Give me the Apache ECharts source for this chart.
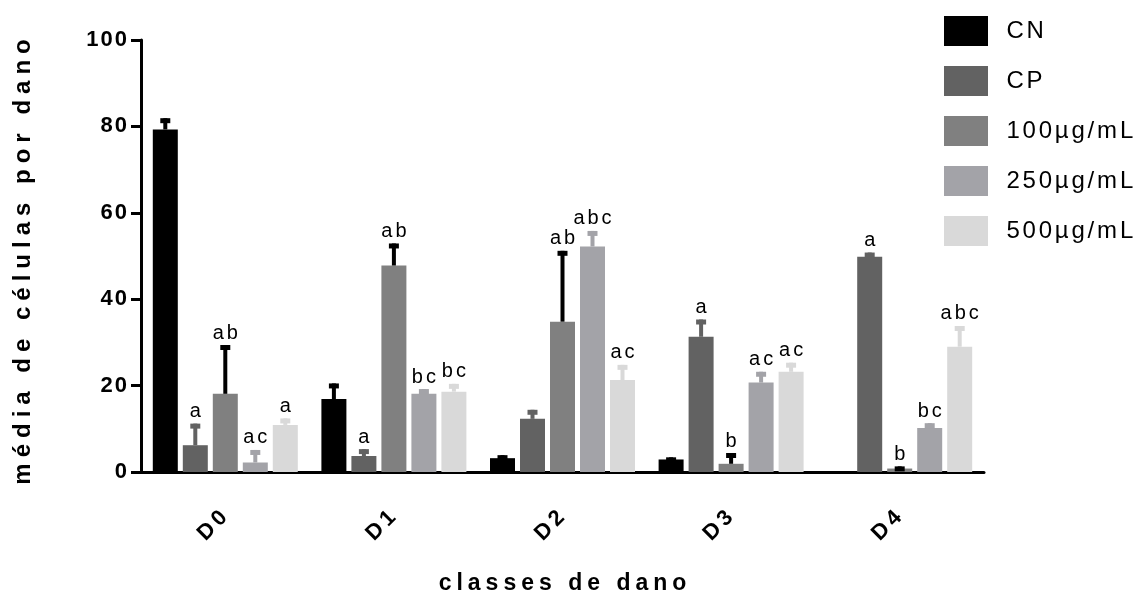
<!DOCTYPE html>
<html>
<head>
<meta charset="utf-8">
<script src="https://cdn.jsdelivr.net/npm/echarts@6/dist/echarts.min.js"></script>
<style>
  html, body { margin: 0; padding: 0; background: #ffffff; }
  #chart { width: 1137px; height: 594px; }
</style>
</head>
<body>
<div id="chart"></div>
<script>
// Damage classes and treatment groups
const categories = ['D0', 'D1', 'D2', 'D3', 'D4'];
const seriesNames = ['CN', 'CP', '100µg/mL', '250µg/mL', '500µg/mL'];

// Mean cells per damage class, with the upper SD of each bar
const meanCN  = [79.3, 16.9, 3.2, 2.9, 0];
const errCN   = [2.6, 3.6, 0.7, 0.5, 0];
const meanCP  = [6.2, 3.7, 12.3, 31.3, 49.8];
const errCP   = [5.0, 1.6, 2.1, 4.0, 1.0];
const mean100 = [18.1, 47.8, 34.8, 1.9, 0.8];
const err100  = [11.3, 5.1, 16.4, 2.5, 0.5];
const mean250 = [2.2, 18.1, 52.2, 20.7, 10.2];
const err250  = [2.9, 1.1, 3.6, 2.5, 1.1];
const mean500 = [10.9, 18.6, 21.3, 23.2, 29.0];
const err500  = [1.5, 1.8, 3.5, 2.1, 4.8];

// Significance letters above each bar
const lettersCN  = ['', '', '', '', ''];
const lettersCP  = ['a', 'a', '', 'a', 'a'];
const letters100 = ['ab', 'ab', 'ab', 'b', 'b'];
const letters250 = ['ac', 'bc', 'abc', 'ac', 'bc'];
const letters500 = ['a', 'bc', 'ac', 'ac', 'abc'];

// Y axis ticks
const yTicks = [0, 20, 40, 60, 80, 100];

const yTitle = 'média de células por dano';
const xTitle = 'classes de dano';

const means = [meanCN, meanCP, mean100, mean250, mean500];
const errs = [errCN, errCP, err100, err250, err500];
const letters = [lettersCN, lettersCP, letters100, letters250, letters500];

const barColors = ['#000000', '#626262', '#808080', '#a3a3a8', '#d9d9d9'];
const errColors = ['#000000', '#626262', '#000000', '#a3a3a8', '#d9d9d9'];

const FONT = "'Liberation Sans', Arial, Helvetica, sans-serif";
const BAR_W = 25;
const BAR_STEP = 30;

// Wrap each character in a rich token so letter spacing can be set via padding
function spaced(str, token) {
  return str.split('').map(function (ch) { return '{' + token + '|' + ch + '}'; }).join('');
}

const chart = echarts.init(document.getElementById('chart'));

const barSeries = seriesNames.map(function (name, i) {
  return {
    name: name,
    type: 'bar',
    data: means[i],
    barWidth: BAR_W,
    barGap: '20%',
    itemStyle: { color: barColors[i] },
    silent: true,
    z: 2
  };
});

// Error bar data: [category index, series index, mean, err]
const errData = [];
means.forEach(function (arr, s) {
  arr.forEach(function (m, c) {
    errData.push([c, s, m, errs[s][c]]);
  });
});

const labelRich = {
  l: { fontSize: 20, fontFamily: FONT, color: '#000', padding: [0, 1.5, 0, 1.5] }
};

const errorSeries = {
  type: 'custom',
  data: errData,
  z: 5,
  silent: true,
  renderItem: function (params, api) {
    const c = api.value(0);
    const s = api.value(1);
    const m = api.value(2);
    const e = api.value(3);
    const base = api.coord([c, m]);
    const x = base[0] + (s - 2) * BAR_STEP;
    const yBar = base[1];
    const yTop = api.coord([c, m + e])[1];
    const col = errColors[s];
    const children = [];
    if (m > 0 || e > 0) {
      children.push({
        type: 'rect',
        shape: { x: x - 2, y: yTop, width: 4, height: Math.max(0, yBar - yTop) },
        style: { fill: col }
      });
      children.push({
        type: 'rect',
        shape: { x: x - 5, y: yTop, width: 10, height: 5 },
        style: { fill: col }
      });
    }
    const txt = letters[s][c];
    if (txt) {
      children.push({
        type: 'text',
        style: {
          text: spaced(txt, 'l'),
          rich: labelRich,
          x: x,
          y: yTop - 2,
          align: 'center',
          verticalAlign: 'bottom'
        }
      });
    }
    return { type: 'group', children: children };
  }
};

chart.setOption({
  animation: false,
  backgroundColor: '#ffffff',
  grid: { left: 141, right: 153, top: 40, bottom: 122, containLabel: false, outerBoundsMode: 'none' },
  legend: {
    data: seriesNames,
    orient: 'vertical',
    left: 939,
    top: 11,
    itemWidth: 44,
    itemHeight: 30,
    itemGap: 20,
    icon: 'rect',
    selectedMode: false,
    formatter: function (name) { return spaced(name, 'g'); },
    textStyle: {
      padding: [0, 0, 0, 12],
      rich: {
        g: { fontSize: 24, fontFamily: FONT, color: '#000', padding: [0, 1.4, 0, 1.4] }
      }
    }
  },
  graphic: [{
    type: 'text',
    x: 23,
    y: 262,
    rotation: Math.PI / 2,
    style: {
      text: spaced(yTitle, 'n'),
      align: 'center',
      verticalAlign: 'middle',
      rich: { n: { fontSize: 24, fontWeight: 'bold', fontFamily: FONT, fill: '#000', padding: [0, 3, 0, 3] } }
    }
  }],
  xAxis: {
    type: 'category',
    data: categories,
    name: spaced(xTitle, 'n'),
    nameLocation: 'middle',
    nameGap: 100,
    nameTextStyle: {
      rich: { n: { fontSize: 23, fontWeight: 'bold', fontFamily: FONT, color: '#000', padding: [0, 2.5, 0, 2.5] } }
    },
    axisLine: { lineStyle: { color: '#000', width: 3 } },
    axisTick: { alignWithLabel: true, length: 10, lineStyle: { color: '#000', width: 3 } },
    axisLabel: {
      rotate: 45,
      margin: 41,
      formatter: function (v) { return spaced(v, 'x'); },
      rich: { x: { fontSize: 22, fontWeight: 'bold', fontFamily: FONT, color: '#000', padding: [0, 2, 0, 2] } }
    },
    splitLine: { show: false }
  },
  yAxis: {
    type: 'value',
    min: yTicks[0],
    max: yTicks[yTicks.length - 1],
    interval: yTicks[1] - yTicks[0],
    axisLine: { show: true, lineStyle: { color: '#000', width: 3 } },
    axisTick: { show: true, length: 10, lineStyle: { color: '#000', width: 3 } },
    axisLabel: {
      margin: 13,
      formatter: function (v) { return spaced(String(v), 'y'); },
      rich: { y: { fontSize: 22, fontWeight: 'bold', fontFamily: FONT, color: '#000', padding: [0, 1, 0, 1] } }
    },
    splitLine: { show: false }
  },
  series: barSeries.concat([errorSeries])
});
</script>
</body>
</html>
